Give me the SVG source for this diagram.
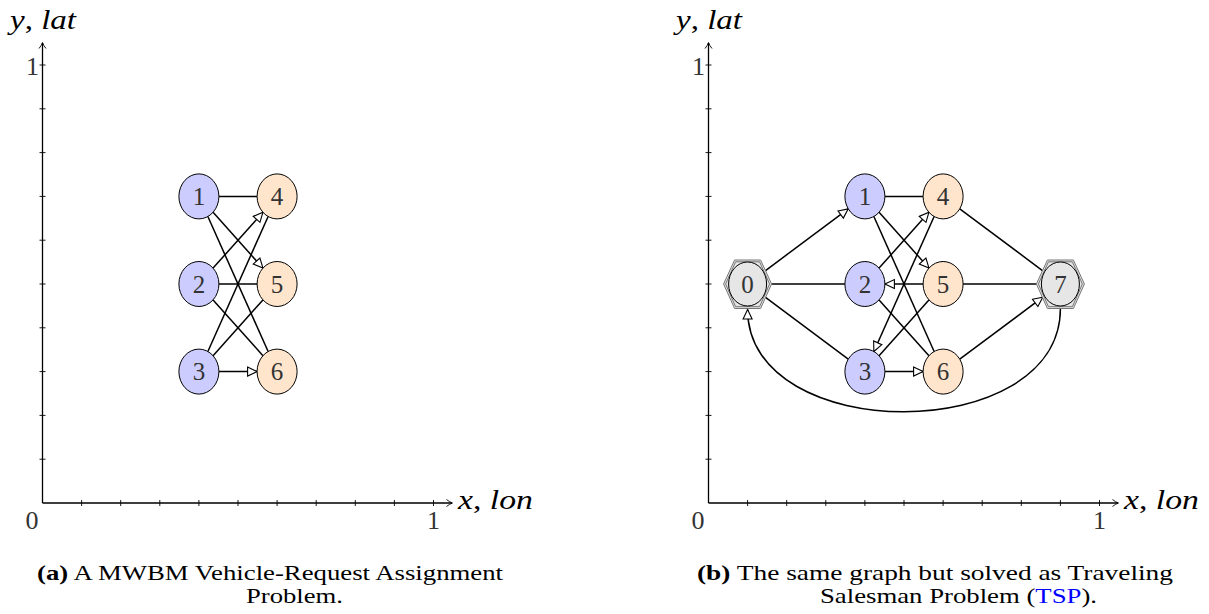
<svg xmlns="http://www.w3.org/2000/svg" width="1209" height="614" viewBox="0 0 1209 614">
<defs>
<style>
.ax{stroke:#000;stroke-width:1.3;fill:none}
.tk{stroke:#000;stroke-width:0.9;fill:none}
.e{stroke:#000;stroke-width:1.5;fill:none}
.v{fill:#ccccff;stroke:#000;stroke-width:1}
.r{fill:#ffe5cc;stroke:#000;stroke-width:1}
.d{fill:#e6e6e6;stroke:#000;stroke-width:1}
.hx1{fill:#e6e6e6;stroke:#777;stroke-width:1}
.hx2{fill:none;stroke:#444;stroke-width:0.7}
.nl{font-family:"Liberation Serif",serif;font-size:25px;fill:#333;text-anchor:middle}
.lab{font-family:"Liberation Serif",serif;font-size:26px;fill:#333}
.it{font-family:"Liberation Serif",serif;font-size:27px;font-style:italic;fill:#000}
.cap{font-family:"Liberation Serif",serif;font-size:22px;fill:#000}
</style>
<marker id="oa" markerUnits="userSpaceOnUse" markerWidth="14" markerHeight="12" refX="10.5" refY="5.5" orient="auto">
<path d="M1,1 L10.5,5.5 L1,10 Z" fill="#fff" stroke="#000" stroke-width="1.1"/>
</marker>
</defs>

<g id="axes-a">
<path class="ax" d="M42.5,503 H452 M42.5,503 V43"/>
<path class="tk" d="M452.5,503 m-6,-3.5 q3,2.5 6,3.5 q-3,1 -6,3.5 M42.5,42.5 m-3.5,6 q2.5,-3 3.5,-6 q1,3 3.5,6"/>
<path class="tk" d="M81.6,500V506M120.7,500V506M159.8,500V506M198.9,500V506M238,500V506M277.1,500V506M316.2,500V506M355.3,500V506M394.4,500V506M433.5,500V506"/>
<path class="tk" d="M39.5,459.2H45.5M39.5,415.4H45.5M39.5,371.6H45.5M39.5,327.8H45.5M39.5,284H45.5M39.5,240.2H45.5M39.5,196.4H45.5M39.5,152.6H45.5M39.5,108.8H45.5M39.5,65H45.5"/>
<text class="lab" x="32" y="529" text-anchor="middle">0</text>
<text class="lab" x="433.5" y="529" text-anchor="middle">1</text>
<text class="lab" x="39" y="75" text-anchor="end">1</text>
<text class="it" x="10" y="29" textLength="66" lengthAdjust="spacingAndGlyphs">y<tspan font-style="normal">,</tspan> lat</text>
<text class="it" x="458" y="509" textLength="75" lengthAdjust="spacingAndGlyphs">x<tspan font-style="normal">,</tspan> lon</text>
</g>

<g id="axes-b">
<path class="ax" d="M708.5,503 H1118 M708.5,503 V43"/>
<path class="tk" d="M1118.5,503 m-6,-3.5 q3,2.5 6,3.5 q-3,1 -6,3.5 M708.5,42.5 m-3.5,6 q2.5,-3 3.5,-6 q1,3 3.5,6"/>
<path class="tk" d="M747.6,500V506M786.7,500V506M825.8,500V506M864.9,500V506M904,500V506M943.1,500V506M982.2,500V506M1021.3,500V506M1060.4,500V506M1099.5,500V506"/>
<path class="tk" d="M705.5,459.2H711.5M705.5,415.4H711.5M705.5,371.6H711.5M705.5,327.8H711.5M705.5,284H711.5M705.5,240.2H711.5M705.5,196.4H711.5M705.5,152.6H711.5M705.5,108.8H711.5M705.5,65H711.5"/>
<text class="lab" x="698" y="529" text-anchor="middle">0</text>
<text class="lab" x="1099.5" y="529" text-anchor="middle">1</text>
<text class="lab" x="705" y="75" text-anchor="end">1</text>
<text class="it" x="676" y="29" textLength="66" lengthAdjust="spacingAndGlyphs">y<tspan font-style="normal">,</tspan> lat</text>
<text class="it" x="1124" y="509" textLength="75" lengthAdjust="spacingAndGlyphs">x<tspan font-style="normal">,</tspan> lon</text>
</g>

<g id="connectors">
<path class="e" d="M218.9,196.4 L257.1,196.4"/>
<path class="e" d="M213.07,212.28 L262.93,268.12" marker-end="url(#oa)"/>
<path class="e" d="M207.87,216.51 L268.13,351.49"/>
<path class="e" d="M213.07,268.12 L262.93,212.28" marker-end="url(#oa)"/>
<path class="e" d="M218.9,284 L257.1,284"/>
<path class="e" d="M213.07,299.88 L262.93,355.72"/>
<path class="e" d="M207.87,351.49 L268.13,216.51"/>
<path class="e" d="M213.07,355.72 L262.93,299.88"/>
<path class="e" d="M218.9,371.6 L257.1,371.6" marker-end="url(#oa)"/>
<path class="e" d="M884.9,196.4 L923.1,196.4"/>
<path class="e" d="M879.07,212.28 L928.93,268.12" marker-end="url(#oa)"/>
<path class="e" d="M873.87,216.51 L934.13,351.49"/>
<path class="e" d="M879.07,268.12 L928.93,212.28" marker-end="url(#oa)"/>
<path class="e" d="M879.07,299.88 L928.93,355.72"/>
<path class="e" d="M934.13,216.51 L873.87,351.49" marker-end="url(#oa)"/>
<path class="e" d="M923.1,284 L884.9,284" marker-end="url(#oa)"/>
<path class="e" d="M928.93,299.88 L879.07,355.72"/>
<path class="e" d="M884.9,371.6 L923.1,371.6" marker-end="url(#oa)"/>
<path class="e" d="M765.2,270.8 L848.24,208.84" marker-end="url(#oa)"/>
<path class="e" d="M771.6,284 L844.9,284"/>
<path class="e" d="M765.2,297.2 L848.24,359.16"/>
<path class="e" d="M959.76,208.84 L1042.8,270.8"/>
<path class="e" d="M963.1,284 L1036.4,284"/>
<path class="e" d="M959.76,359.16 L1042.8,297.2" marker-end="url(#oa)"/>
<path class="e" d="M1060.4,308.5 C1060.4,446 747.6,446 747.6,309.5" marker-end="url(#oa)"/>
</g>

<g id="a-n1"><ellipse class="v" cx="198.9" cy="196.4" rx="20" ry="22.5"/><text class="nl" x="198.9" y="205">1</text></g>
<g id="a-n2"><ellipse class="v" cx="198.9" cy="284" rx="20" ry="22.5"/><text class="nl" x="198.9" y="292.6">2</text></g>
<g id="a-n3"><ellipse class="v" cx="198.9" cy="371.6" rx="20" ry="22.5"/><text class="nl" x="198.9" y="380.2">3</text></g>
<g id="a-n4"><ellipse class="r" cx="277.1" cy="196.4" rx="20" ry="22.5"/><text class="nl" x="277.1" y="205">4</text></g>
<g id="a-n5"><ellipse class="r" cx="277.1" cy="284" rx="20" ry="22.5"/><text class="nl" x="277.1" y="292.6">5</text></g>
<g id="a-n6"><ellipse class="r" cx="277.1" cy="371.6" rx="20" ry="22.5"/><text class="nl" x="277.1" y="380.2">6</text></g>

<g id="b-n0">
<polygon class="hx1" points="723.6,284 734.6,260 760.6,260 771.6,284 760.6,308.5 734.6,308.5"/>
<polygon class="hx2" points="725.6,284 735.6,261.8 759.6,261.8 769.6,284 759.6,306.7 735.6,306.7"/>
<ellipse class="d" cx="747.6" cy="284" rx="19" ry="22"/><text class="nl" x="747.6" y="292.6">0</text></g>
<g id="b-n1"><ellipse class="v" cx="864.9" cy="196.4" rx="20" ry="22.5"/><text class="nl" x="864.9" y="205">1</text></g>
<g id="b-n2"><ellipse class="v" cx="864.9" cy="284" rx="20" ry="22.5"/><text class="nl" x="864.9" y="292.6">2</text></g>
<g id="b-n3"><ellipse class="v" cx="864.9" cy="371.6" rx="20" ry="22.5"/><text class="nl" x="864.9" y="380.2">3</text></g>
<g id="b-n4"><ellipse class="r" cx="943.1" cy="196.4" rx="20" ry="22.5"/><text class="nl" x="943.1" y="205">4</text></g>
<g id="b-n5"><ellipse class="r" cx="943.1" cy="284" rx="20" ry="22.5"/><text class="nl" x="943.1" y="292.6">5</text></g>
<g id="b-n6"><ellipse class="r" cx="943.1" cy="371.6" rx="20" ry="22.5"/><text class="nl" x="943.1" y="380.2">6</text></g>
<g id="b-n7">
<polygon class="hx1" points="1036.4,284 1047.4,260 1073.4,260 1084.4,284 1073.4,308.5 1047.4,308.5"/>
<polygon class="hx2" points="1038.4,284 1048.4,261.8 1072.4,261.8 1082.4,284 1072.4,306.7 1048.4,306.7"/>
<ellipse class="d" cx="1060.4" cy="284" rx="19" ry="22"/><text class="nl" x="1060.4" y="292.6">7</text></g>

<g id="captions">
<text class="cap" x="37" y="580" textLength="466" lengthAdjust="spacingAndGlyphs"><tspan font-weight="bold">(a)</tspan> A MWBM Vehicle-Request Assignment</text>
<text class="cap" x="246" y="603" textLength="97" lengthAdjust="spacingAndGlyphs">Problem.</text>
<text class="cap" x="697" y="580" textLength="476" lengthAdjust="spacingAndGlyphs"><tspan font-weight="bold">(b)</tspan> The same graph but solved as Traveling</text>
<text class="cap" x="820" y="603" textLength="277" lengthAdjust="spacingAndGlyphs">Salesman Problem (<tspan fill="#0000ff">TSP</tspan>).</text>
</g>
</svg>
